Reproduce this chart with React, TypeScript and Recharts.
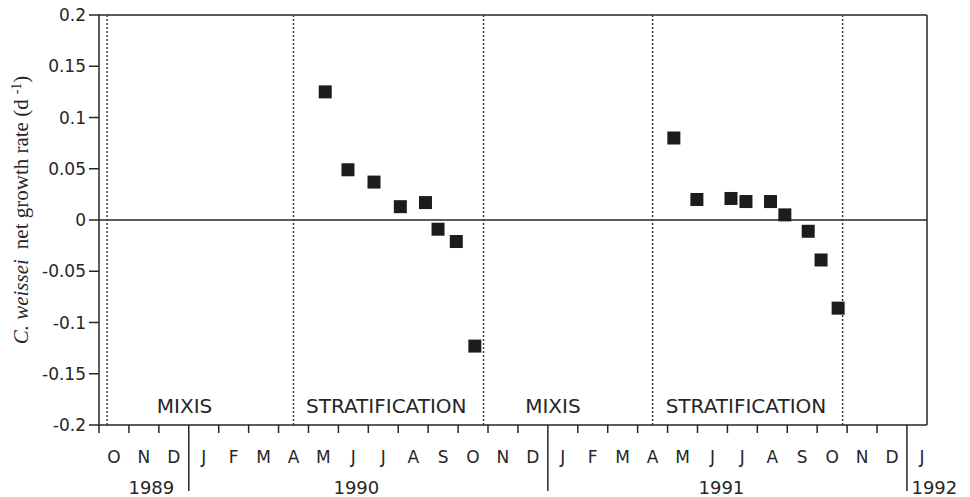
import React from 'react';
import { ScatterChart, Scatter, XAxis, YAxis, ReferenceLine } from 'recharts';

// month index: 0 = 1 Oct 1989
const MONTH_LETTERS = ['O', 'N', 'D', 'J', 'F', 'M', 'A', 'M', 'J', 'J', 'A', 'S', 'O', 'N', 'D', 'J', 'F', 'M', 'A', 'M', 'J', 'J', 'A', 'S', 'O', 'N', 'D', 'J'];
const YEAR_STARTS = [3, 15, 27];
const YEARS = ['1989', '1990', '1991', '1992'];
const YEAR_POS = [1.75, 8.6, 20.8, 27.15];
const PHASE_BOUNDS = [0.27, 6.5, 12.85, 18.5, 24.85];
const PHASES = ['MIXIS', 'STRATIFICATION', 'MIXIS', 'STRATIFICATION'];
const PHASE_POS = [2.86, 9.6, 15.17, 21.62];
const Y_TICKS = [-0.2, -0.15, -0.1, -0.05, 0, 0.05, 0.1, 0.15, 0.2];

const t1990 = [7.56, 8.32, 9.19, 10.07, 10.91, 11.33, 11.94, 12.56];
const r1990 = [0.125, 0.049, 0.037, 0.013, 0.017, -0.009, -0.021, -0.123];
const t1991 = [19.21, 19.98, 21.12, 21.62, 22.44, 22.92, 23.7, 24.13, 24.7];
const r1991 = [0.08, 0.02, 0.021, 0.018, 0.018, 0.005, -0.011, -0.039, -0.086];

const data1990 = t1990.map((m, i) => ({ m, v: r1990[i] }));
const data1991 = t1991.map((m, i) => ({ m, v: r1991[i] }));

const X_TICKS = [
  ...MONTH_LETTERS.map((_, i) => i),
  ...MONTH_LETTERS.map((_, i) => i + 0.5),
  ...YEAR_POS,
];

const INK = '#262626';
const SANS = 'DejaVu Sans';

const MonthTick = (props: any) => {
  const { x, y, payload } = props;
  const v = payload.value;
  const yi = YEAR_POS.indexOf(v);
  if (yi >= 0) {
    return (
      <text x={x} y={y + 69} textAnchor={yi === YEARS.length - 1 ? 'start' : 'middle'} fontFamily={SANS} fontSize={18} fill={INK}>
        {YEARS[yi]}
      </text>
    );
  }
  if (Number.isInteger(v)) {
    const long = YEAR_STARTS.includes(v);
    return <line x1={x} x2={x} y1={y} y2={y + (long ? 66 : 8)} stroke={INK} strokeWidth={1.5} />;
  }
  return (
    <text x={x} y={y + 38} textAnchor="middle" fontFamily={SANS} fontSize={17} fill={INK}>
      {MONTH_LETTERS[Math.floor(v)]}
    </text>
  );
};

const Square = (props: any) => {
  const { cx, cy } = props;
  return <rect x={cx - 6.5} y={cy - 6.5} width={13} height={13} fill="#1c1c1c" />;
};

const YTitle = (props: any) => {
  const vb = props.viewBox;
  const cx = vb.x + 28;
  const cy = vb.y + vb.height / 2 - 10;
  return (
    <text transform={`rotate(-90 ${cx} ${cy})`} x={cx} y={cy} textAnchor="middle" fontFamily="Liberation Serif" fontSize={21} fill={INK}>
      <tspan fontStyle="italic">C. weissei</tspan>
      <tspan dx={10}>net growth rate (d</tspan>
      <tspan dx={5} dy={-7} fontSize={14}>-1</tspan>
      <tspan dy={7}>)</tspan>
    </text>
  );
};

export default function App() {
  return (
    <div style={{ position: 'absolute', left: 0, top: 0, width: 970, height: 497, background: '#fff' }}>
      <ScatterChart width={970} height={497} margin={{ top: 15, right: 0, bottom: 0, left: 0 }}>
        <XAxis
          type="number"
          dataKey="m"
          domain={[0, 27.67]}
          ticks={X_TICKS}
          interval={0}
          height={72}
          tickLine={false}
          tickSize={0}
          tickMargin={0}
          tick={MonthTick}
          axisLine={{ stroke: INK, strokeWidth: 1.5 }}
        />
        <YAxis
          type="number"
          dataKey="v"
          domain={[-0.2, 0.2]}
          ticks={Y_TICKS}
          interval={0}
          width={99}
          tickSize={10}
          tickMargin={3}
          tick={{ fill: INK, fontSize: 17, fontFamily: SANS }}
          tickLine={{ stroke: INK, strokeWidth: 1.5 }}
          axisLine={{ stroke: INK, strokeWidth: 1.5 }}
          label={YTitle}
        />
        <YAxis
          yAxisId="right"
          orientation="right"
          type="number"
          domain={[-0.2, 0.2]}
          ticks={Y_TICKS}
          interval={0}
          width={43}
          tickSize={6}
          tick={false}
          tickLine={{ stroke: INK, strokeWidth: 1.5 }}
          axisLine={{ stroke: INK, strokeWidth: 1.5 }}
        />
        <ReferenceLine y={0.2} stroke={INK} strokeWidth={1.5} />
        <ReferenceLine y={0} stroke={INK} strokeWidth={1.5} />
        {PHASE_BOUNDS.map((b) => (
          <ReferenceLine key={'b' + b} x={b} stroke="#3a3a3a" strokeWidth={1.5} strokeDasharray="2 2" />
        ))}
        {PHASES.map((p, i) => (
          <ReferenceLine
            key={'p' + i}
            x={PHASE_POS[i]}
            stroke="none"
            label={(lp: any) => (
              <text x={lp.viewBox.x} y={lp.viewBox.y + lp.viewBox.height - 12} textAnchor="middle" fontFamily={SANS} fontSize={20} fill={INK}>
                {p}
              </text>
            )}
          />
        ))}
        <Scatter data={data1990} shape={Square} isAnimationActive={false} />
        <Scatter data={data1991} shape={Square} isAnimationActive={false} />
      </ScatterChart>
    </div>
  );
}
